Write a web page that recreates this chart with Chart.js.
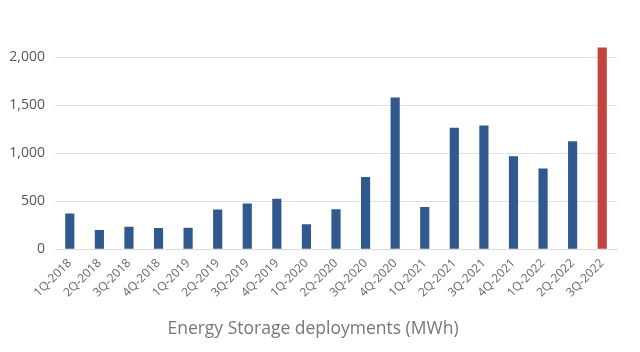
<!DOCTYPE html>
<html><head><meta charset="utf-8">
<script src="https://cdn.jsdelivr.net/npm/chart.js@4"></script>
<style>html,body{margin:0;padding:0;background:#fff}#w{width:640px;height:352px}</style>
</head><body><div id="w"><canvas id="c"></canvas></div>
<script>
const categories = ["1Q-2018","2Q-2018","3Q-2018","4Q-2018","1Q-2019","2Q-2019","3Q-2019","4Q-2019","1Q-2020","2Q-2020","3Q-2020","4Q-2020","1Q-2021","2Q-2021","3Q-2021","4Q-2021","1Q-2022","2Q-2022","3Q-2022"];
const deployments = [371,201,235,222,225,413,475,527,260,417,753,1580,441,1264,1288,969,840,1125,2100];
const highlightIndex = 18;
const yTicks = [0,500,1000,1500,2000];
const titleText = "Energy Storage deployments (MWh)";

const blue = '#30598f', red = '#c6423f';
new Chart(document.getElementById('c'), {
  type: 'bar',
  data: { labels: categories, datasets: [{ data: deployments,
    backgroundColor: deployments.map((v,i)=> i===highlightIndex ? red : blue),
    barPercentage: 0.31, categoryPercentage: 1.0 }] },
  options: {
    responsive: true, maintainAspectRatio: false, animation: false,
    layout: { padding: { left: 9, right: 23, top: 38, bottom: 8 } },
    plugins: { legend: { display: false }, tooltip: { enabled: false },
      title: { display: true, text: titleText, position: 'bottom', color: '#777',
        font: { family: 'Open Sans', size: 17.5, weight: 'normal' }, padding: { top: 12, bottom: 4 } } },
    scales: {
      x: { grid: { display: false, drawTicks: false }, border: { color: '#dcdcdc' },
        ticks: { color: '#666', font: { family: 'Open Sans', size: 12 }, minRotation: 45, maxRotation: 45, padding: 7, autoSkip: false } },
      y: { min: 0, max: 2200,
        afterFit: s => { s.width = 46; },
        afterBuildTicks: s => { s.ticks = yTicks.map(v => ({ value: v })); },
        grid: { color: '#e2e2e2', drawTicks: false }, border: { display: false },
        ticks: { color: '#555', font: { family: 'Open Sans', size: 14 }, padding: 10,
          callback: v => v.toLocaleString('en-US') } }
    }
  }
});
</script></body></html>
